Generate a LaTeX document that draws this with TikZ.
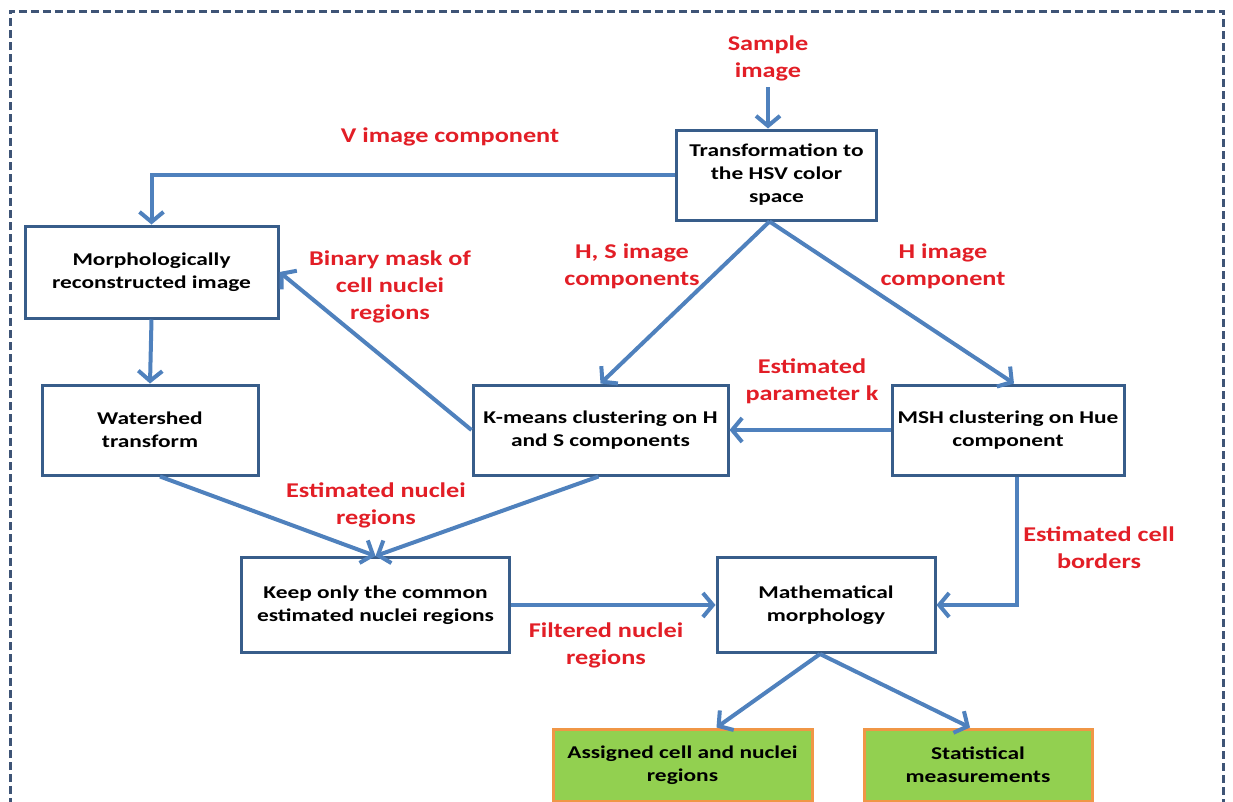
\documentclass[tikz,border=0pt]{standalone}
\usepackage{fontspec}
\setmainfont{Carlito}
\newfontfamily\boxfont[FakeStretch=1.3]{Carlito}
\newfontfamily\lblfont[FakeStretch=1.25]{Carlito}
\usetikzlibrary{arrows.meta}
\definecolor{lineblue}{RGB}{79,129,189}
\definecolor{boxblue}{RGB}{56,93,138}
\definecolor{lblred}{RGB}{226,30,38}
\definecolor{gfill}{RGB}{146,208,80}
\definecolor{gborder}{RGB}{240,150,70}
\definecolor{dashcol}{RGB}{62,84,118}
\begin{document}
\begin{tikzpicture}[x=1pt,y=-1pt,
  procbox/.style={draw=boxblue,line width=3pt,fill=white,align=center,
    font=\boxfont\bfseries\fontsize{18}{23}\selectfont,inner sep=0pt},
  resbox/.style={procbox,draw=gborder,fill=gfill},
  lbl/.style={text=lblred,align=center,font=\lblfont\bfseries\fontsize{21}{27}\selectfont,inner sep=0pt},
  conn/.style={draw=lineblue,line width=4pt},
  arr/.style={conn,-{Straight Barb[length=10pt,width=24pt]}},
  frame/.style={draw=dashcol,line width=3pt,dash pattern=on 8pt off 4pt}
]
\useasboundingbox (0,0) rectangle (1233,801);
% frame
\draw[frame] (10,830) -- (10,11) -- (1223,11) -- (1223,830);

% boxes
\node[procbox,minimum width=200pt,minimum height=90pt] (hsv) at (776.5,175) {Transformation to\\the HSV color\\space};
\node[procbox,minimum width=253pt,minimum height=92pt] (morph) at (151.5,272) {Morphologically\\reconstructed image};
\node[procbox,minimum width=216pt,minimum height=90pt] (ws) at (150,430) {Watershed\\transform};
\node[procbox,minimum width=255pt,minimum height=90pt] (km) at (600.5,430) {K-means clustering on H\\and S components};
\node[procbox,minimum width=232pt,minimum height=90pt] (msh) at (1008,430) {MSH clustering on Hue\\component};
\node[procbox,minimum width=268pt,minimum height=95pt] (keep) at (375.5,605) {Keep only the common\\estimated nuclei regions};
\node[procbox,minimum width=218pt,minimum height=95pt] (math) at (826,605) {Mathematical\\morphology};
\node[resbox,minimum width=259pt,minimum height=72pt] (assign) at (682.5,765) {Assigned cell and nuclei\\regions};
\node[resbox,minimum width=228pt,minimum height=72pt] (stat) at (978,765) {Statistical\\measurements};

% labels
\node[lbl] (sample) at (768,58) {Sample\\image};
\node[lbl] (vlbl) at (450,137) {V image component};
\node[lbl] (hslbl) at (632,266) {H, S image\\components};
\node[lbl] (hlbl) at (943,266) {H image\\component};
\node[lbl] (binlbl) at (390,287) {Binary mask of\\cell nuclei\\regions};
\node[lbl] (klbl) at (812,381) {Estimated\\parameter k};
\node[lbl] (enlbl) at (376,505) {Estimated nuclei\\regions};
\node[lbl] (fnlbl) at (606,645) {Filtered nuclei\\regions};
\node[lbl] (eclbl) at (1099,548) {Estimated cell\\borders};

% connectors
\coordinate (sampleEnd) at (768,87);
\draw[arr] (sampleEnd) -- (sampleEnd |- hsv.north);
\draw[arr] (hsv.west) -- (morph.north |- hsv.west) -- (morph.north);
\coordinate (hsvB) at ([xshift=-7pt]hsv.south);
\draw[arr] (hsvB) -- (km.north);
\draw[arr] (hsvB) -- ([xshift=6pt]msh.north);
\draw[arr] (km.west) -- (morph.east);
\draw[arr] (msh.west) -- (km.east);
\draw[arr] (morph.south) -- (ws.north);
\draw[arr] ([xshift=10pt]ws.south) -- (keep.north);
\draw[arr] ([xshift=-2pt]km.south) -- (keep.north);
\draw[arr] (keep.east) -- (math.west);
\draw[arr] ([xshift=9pt]msh.south) |- (math.east);
\draw[arr] ([xshift=-6pt]math.south) -- ([xshift=34pt]assign.north);
\draw[arr] ([xshift=-6pt]math.south) -- ([xshift=-8pt]stat.north);
\end{tikzpicture}
\end{document}
